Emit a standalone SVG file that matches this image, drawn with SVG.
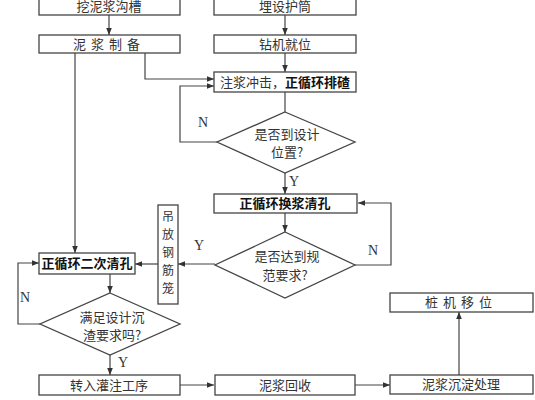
<svg xmlns="http://www.w3.org/2000/svg" width="535" height="400" viewBox="0 0 535 400">
<defs>
<marker id="ah" viewBox="0 0 10 10" refX="10" refY="5" markerWidth="7" markerHeight="7" markerUnits="userSpaceOnUse" orient="auto">
<path d="M0,1 L10,5 L0,9 z" fill="#333"/>
</marker>
<style>
.b{fill:#fff;stroke:#444;stroke-width:1.3}
.t{font-family:"Noto Sans CJK SC","Noto Sans",sans-serif;font-size:13px;fill:#333;text-anchor:middle}
.v{font-size:12px}
.bd{font-weight:bold;fill:#111}
.l{fill:#333;font-family:"Liberation Serif",serif;font-size:14px;text-anchor:middle}
.c{fill:none;stroke:#444;stroke-width:1.2}
</style>
</defs>
<rect width="535" height="400" fill="#fff"/>
<g id="connectors">
<path class="c" d="M109,15 V35" marker-end="url(#ah)"/>
<path class="c" d="M285,15 V35" marker-end="url(#ah)"/>
<path class="c" d="M285,53 V72" marker-end="url(#ah)"/>
<path class="c" d="M145,53 V79 H214" marker-end="url(#ah)"/>
<path class="c" d="M285,92 V112"/>
<path class="c" d="M217,142 H180 V86 H214" marker-end="url(#ah)"/>
<path class="c" d="M285,173 V194" marker-end="url(#ah)"/>
<path class="c" d="M285,213 V232" marker-end="url(#ah)"/>
<path class="c" d="M355,265 H391 V203 H358" marker-end="url(#ah)"/>
<path class="c" d="M215,264 H178" marker-end="url(#ah)"/>
<path class="c" d="M158,264 H135" marker-end="url(#ah)"/>
<path class="c" d="M75,53 V253" marker-end="url(#ah)"/>
<path class="c" d="M110,274 V293" marker-end="url(#ah)"/>
<path class="c" d="M40,324 H18 V263 H39" marker-end="url(#ah)"/>
<path class="c" d="M110,355 V375" marker-end="url(#ah)"/>
<path class="c" d="M180,385 H214" marker-end="url(#ah)"/>
<path class="c" d="M355,385 H390" marker-end="url(#ah)"/>
<path class="c" d="M459,375 V312" marker-end="url(#ah)"/>
<text class="l" x="203" y="127">N</text>
<text class="l" x="294" y="186">Y</text>
<text class="l" x="373" y="255">N</text>
<text class="l" x="199" y="250">Y</text>
<text class="l" x="25" y="302">N</text>
<text class="l" x="123" y="367">Y</text>
</g>
<g id="n1"><rect class="b" x="39" y="-10" width="141" height="25"/><text class="t" x="109" y="11">挖泥浆沟槽</text></g>
<g id="n2"><rect class="b" x="214" y="-10" width="142" height="25"/><text class="t" x="285" y="11">埋设护筒</text></g>
<g id="n3"><rect class="b" x="39" y="35" width="141" height="18"/><text class="t" x="109" y="49" letter-spacing="5">泥浆制备</text></g>
<g id="n4"><rect class="b" x="214" y="35" width="142" height="18"/><text class="t" x="285" y="49">钻机就位</text></g>
<g id="n5"><rect class="b" x="214" y="72" width="142" height="20"/><text class="t" x="285" y="87">注浆冲击，<tspan class="bd">正循环排碴</tspan></text></g>
<g id="n6"><polygon class="b" points="285,112 355,142 285,173 217,142"/><text class="t" x="287" y="139">是否到设计</text><text class="t" x="287" y="157">位置?</text></g>
<g id="n7"><rect class="b" x="214" y="194" width="143" height="19"/><text class="t bd" x="285" y="208">正循环换浆清孔</text></g>
<g id="n8"><polygon class="b" points="285,232 355,265 285,298 215,265"/><text class="t" x="287" y="261">是否达到规</text><text class="t" x="285" y="280">范要求?</text></g>
<g id="n9"><rect class="b" x="158" y="205" width="20" height="99"/><text class="t v" x="168" y="221">吊</text><text class="t v" x="168" y="239">放</text><text class="t v" x="168" y="257">钢</text><text class="t v" x="168" y="275">筋</text><text class="t v" x="168" y="293">笼</text></g>
<g id="n10"><rect class="b" x="39" y="253" width="96" height="21"/><text class="t bd" x="87" y="268">正循环二次清孔</text></g>
<g id="n11"><polygon class="b" points="110,293 180,324 110,355 40,324"/><text class="t" x="112" y="322">满足设计沉</text><text class="t" x="112" y="340">渣要求吗?</text></g>
<g id="n12"><rect class="b" x="39" y="375" width="141" height="20"/><text class="t" x="109" y="390">转入灌注工序</text></g>
<g id="n13"><rect class="b" x="215" y="375" width="140" height="20"/><text class="t" x="285" y="390">泥浆回收</text></g>
<g id="n14"><rect class="b" x="390" y="375" width="143" height="19"/><text class="t" x="461" y="389">泥浆沉淀处理</text></g>
<g id="n15"><rect class="b" x="390" y="293" width="143" height="19"/><text class="t" x="461" y="307" letter-spacing="5">桩机移位</text></g>
</svg>
